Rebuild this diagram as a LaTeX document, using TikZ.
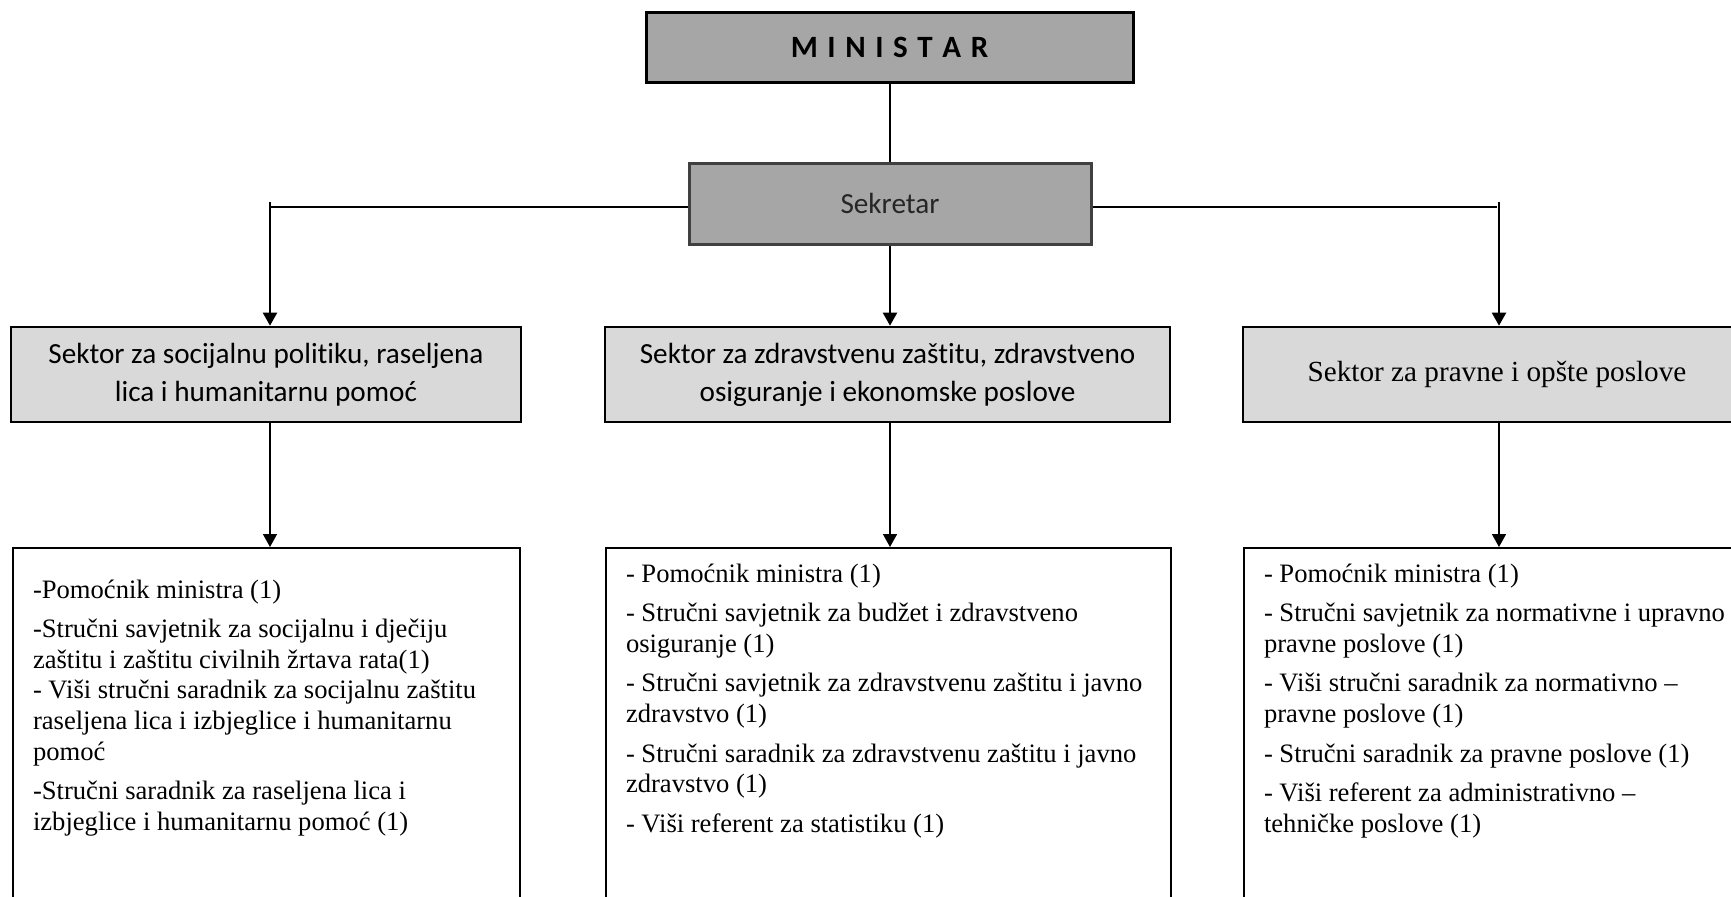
\documentclass[tikz,border=0pt]{standalone}
\usepackage{fontspec}
\setmainfont{Liberation Serif}
\newfontfamily\calibri[Ligatures={NoCommon,NoRare,NoDiscretionary}]{Carlito}
\usetikzlibrary{arrows.meta}
\definecolor{darkbox}{HTML}{A6A6A6}
\definecolor{lightbox}{HTML}{D9D9D9}
\definecolor{sekborder}{HTML}{404040}
\definecolor{sektext}{HTML}{262626}
\newcommand{\bottomtext}[3]{%
\begin{minipage}[t][185pt][t]{#1}\raggedright\leftskip=10pt\setlength{\parskip}{4.5pt}\rule{0pt}{#2}#3\end{minipage}}
\tikzset{
  topbox/.style={draw=black, line width=1.5pt, fill=darkbox, minimum width=243.5pt, minimum height=35pt, inner sep=0pt},
  sekbox/.style={draw=sekborder, line width=1.5pt, fill=darkbox, minimum width=201pt, minimum height=40.5pt, inner sep=0pt, text=sektext, font=\calibri\fontsize{14.6}{18}\selectfont},
  secbox/.style={draw=black, line width=1.3pt, fill=lightbox, minimum height=47.5pt, inner sep=0pt, align=center, font=\calibri\fontsize{14.6}{19}\selectfont},
  botbox/.style={draw=black, line width=1pt, fill=white, inner sep=0pt, anchor=north west, font=\fontsize{13.3}{15.3}\selectfont},
  conn/.style={line width=1pt},
  arr/.style={line width=1pt, -{Triangle[length=6.5pt,width=7pt]}},
  arrthin/.style={line width=0.8pt, -{Triangle[length=6.5pt,width=7pt]}}
}
\begin{document}
\begin{tikzpicture}[x=0.5pt,y=-0.5pt]
\useasboundingbox (0,0) rectangle (1731,896);
\clip (0,0) rectangle (1731,896);
\fill[white] (0,0) rectangle (1731,896);

\node[topbox] (min) at (889.5,47) {\calibri\bfseries\fontsize{15.5}{18}\selectfont M\kern4.8pt I\kern4.8pt N\kern4.8pt I\kern4.8pt S\kern4.8pt T\kern4.8pt A\kern4.8pt R};
\node[sekbox] (sek) at (890,203.5) {Sekretar};

\node[secbox, minimum width=255pt] (secL) at (266,374.5) {Sektor za socijalnu politiku, raseljena\\lica i humanitarnu pomoć};
\node[secbox, minimum width=282.5pt] (secM) at (887.5,374.5) {Sektor za zdravstvenu zaštitu, zdravstveno\\osiguranje i ekonomske poslove};
\node[secbox, minimum width=254pt, font=\fontsize{14.6}{19}\selectfont] (secR) at (1497,374.5) {Sektor za pravne i opšte poslove};

\node[botbox] (bL) at (12,547) {\bottomtext{253.5pt}{25pt}{%
-Pomoćnik ministra (1)\par
-Stručni savjetnik za socijalnu i dječiju\\
zaštitu i zaštitu civilnih žrtava rata(1)\\
- Viši stručni saradnik za socijalnu zaštitu\\
raseljena lica i izbjeglice i humanitarnu\\
pomoć\par
-Stručni saradnik za raseljena lica i\\
izbjeglice i humanitarnu pomoć (1)}};

\node[botbox] (bM) at (605,547) {\bottomtext{282.5pt}{17pt}{%
- Pomoćnik ministra (1)\par
- Stručni savjetnik za budžet i zdravstveno\\
osiguranje (1)\par
- Stručni savjetnik za zdravstvenu zaštitu i javno\\
zdravstvo (1)\par
- Stručni saradnik za zdravstvenu zaštitu i javno\\
zdravstvo (1)\par
- Viši referent za statistiku (1)}};

\node[botbox] (bR) at (1243,547) {\bottomtext{254pt}{17pt}{%
- Pomoćnik ministra (1)\par
- Stručni savjetnik za normativne i upravno\\
pravne poslove (1)\par
- Viši stručni saradnik za normativno –\\
pravne poslove (1)\par
- Stručni saradnik za pravne poslove (1)\par
- Viši referent za administrativno –\\
tehničke poslove (1)}};

\coordinate (jL) at (270,207);
\coordinate (jLt) at (270,202);
\coordinate (jR) at (1497,207);
\coordinate (jRt) at (1499,202);

\draw[conn] (min.south) -- (min.south |- sek.north);
\draw[conn] (sek.west |- jL) -- (jL);
\draw[conn] (sek.east |- jR) -- (jR);
\draw[arr] (jLt) -- (jLt |- secL.north);
\draw[arr] (jRt) -- (jRt |- secR.north);
\draw[arr] (sek.south) -- (sek.south |- secM.north);

\draw[arrthin] (jL |- secL.south) -- (jL |- bL.north);
\draw[arrthin] (sek.south |- secM.south) -- (sek.south |- bM.north);
\draw[arrthin] (jRt |- secR.south) -- (jRt |- bR.north);
\end{tikzpicture}
\end{document}
